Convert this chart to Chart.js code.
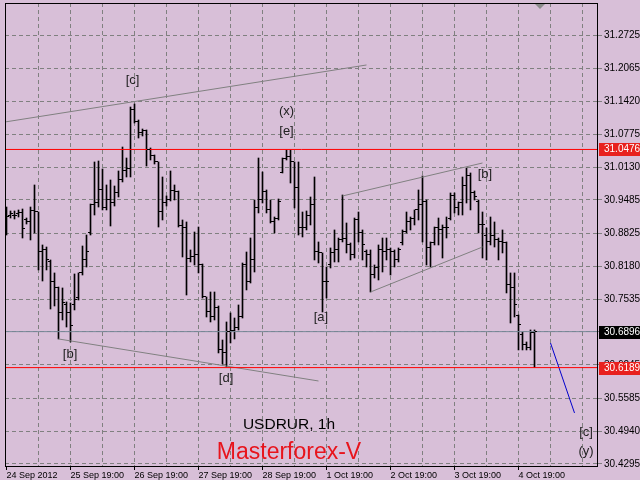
<!DOCTYPE html>
<html>
<head>
<meta charset="utf-8">
<script src="https://cdn.jsdelivr.net/npm/chart.js@4"></script>
<style>
  html, body { margin: 0; padding: 0; background: #D8BFD8; }
  canvas { display: block; }
</style>
</head>
<body>
<canvas id="chart" width="640" height="480"></canvas>
<script>
// USDRUR 1h bars (bar index 0 = 24 Sep 2012)
const open = [
  30.9247,30.9169,30.9169,30.9208,30.9228,30.9090,30.9070,30.9267,30.9247,30.8461,
  30.8501,30.8284,30.7872,30.7754,30.7263,30.7439,30.7263,30.7420,30.7557,30.8049,
  30.8304,30.8835,30.9385,30.9424,30.9680,30.9345,30.9483,30.9424,30.9621,30.9876,
  31.0053,31.0092,31.1252,31.1035,31.0800,31.0839,31.0466,31.0367,31.0230,30.9247,
  30.9424,30.9483,30.9660,30.9640,30.8972,30.8952,30.8343,30.8363,30.8402,30.8206,
  30.7577,30.7282,30.7184,30.7380,30.6536,30.6477,30.6889,30.6909,30.6968,30.7184,
  30.8225,30.7872,30.8304,30.9345,30.9483,30.9640,30.9287,30.9070,30.9129,31.0033,
  31.0289,31.0328,31.0230,30.9719,30.8933,30.8933,30.9188,30.9404,30.8461,30.8442,
  30.7872,30.8206,30.8442,30.8501,30.8697,30.8736,30.8599,30.8402,30.9090,30.8835,
  30.8461,30.8402,30.8009,30.8147,30.8501,30.8461,30.8501,30.8461,30.8304,30.8638,
  30.8854,30.9051,30.9110,30.9287,30.9385,30.9444,30.8559,30.8638,30.8952,30.8894,
  30.8952,30.9129,30.9581,30.9345,30.9424,30.9758,30.9974,30.9621,30.9444,30.8992,
  30.8795,30.8658,30.8795,30.8697,30.8658,30.8638,30.7813,30.7773,30.7204,30.6830,
  30.6634,30.6594,30.6870
];
const high = [
  30.9345,30.9267,30.9267,30.9287,30.9306,30.9129,30.9345,30.9778,30.9247,30.8599,
  30.8559,30.8304,30.8049,30.7773,30.7754,30.7479,30.7459,30.8029,30.8049,30.8579,
  30.8795,30.9404,31.0230,31.0249,31.0092,30.9778,30.9876,30.9758,31.0053,31.0524,
  31.0308,31.1310,31.1369,31.1055,31.0878,31.0859,31.0505,31.0367,31.0230,30.9935,
  30.9562,31.0053,30.9778,30.9660,30.9090,30.9051,30.8501,30.8854,30.8952,30.8225,
  30.7577,30.7675,30.7675,30.7400,30.6732,30.7086,30.7263,30.7164,30.7420,30.8245,
  30.8461,30.8736,30.9483,31.0308,31.0033,30.9680,30.9483,30.9149,30.9503,31.0308,
  31.0466,31.0466,31.0230,31.0230,30.9247,30.9267,30.9542,30.9935,30.8658,30.8442,
  30.8166,30.8540,30.8894,30.8736,30.9581,30.9031,30.8638,30.9129,30.9247,30.8894,
  30.8501,30.8501,30.8206,30.8599,30.8736,30.8736,30.8540,30.8501,30.8540,30.8894,
  30.9247,30.9149,30.9287,30.9680,30.9955,30.9483,30.8658,30.8952,30.9129,30.8992,
  30.9149,30.9621,30.9621,30.9444,30.9935,31.0112,31.0014,30.9660,30.9483,30.9247,
  30.8933,30.9149,30.9051,30.8736,30.8894,30.8658,30.8049,30.8049,30.7223,30.6889,
  30.6693,30.6929,30.6929
];
const low = [
  30.8795,30.9129,30.9110,30.9149,30.8736,30.9011,30.8697,30.8835,30.8108,30.7891,
  30.8108,30.7341,30.7400,30.6752,30.7125,30.6987,30.6693,30.7322,30.7518,30.8009,
  30.8166,30.8795,30.9188,30.9345,30.9287,30.9287,30.8972,30.9365,30.9542,30.9837,
  30.9935,30.9935,31.0996,31.0701,31.0741,31.0151,31.0269,31.0190,30.8952,30.9090,
  30.9365,30.9464,30.9483,30.8952,30.8363,30.7616,30.8265,30.8206,30.8049,30.7557,
  30.7184,30.7086,30.7125,30.6477,30.6260,30.6201,30.6673,30.6752,30.6929,30.7164,
  30.7715,30.7852,30.8068,30.9228,30.9424,30.9228,30.9031,30.8835,30.9090,31.0014,
  31.0269,30.9817,30.9326,30.8795,30.8756,30.8894,30.8992,30.8304,30.8245,30.7282,
  30.7557,30.8147,30.8265,30.8265,30.8658,30.8442,30.8304,30.8343,30.8658,30.8304,
  30.8166,30.7675,30.7950,30.7911,30.8068,30.8304,30.8009,30.8166,30.8265,30.8599,
  30.8835,30.8894,30.8992,30.9090,30.8658,30.8206,30.8166,30.8599,30.8599,30.8343,
  30.8736,30.9090,30.9228,30.9188,30.9188,30.9424,30.9287,30.9483,30.8835,30.8343,
  30.8304,30.8599,30.8559,30.8304,30.8442,30.7656,30.7066,30.7184,30.6536,30.6536,
  30.6536,30.6536,30.6189
];
const close = [
  30.9149,30.9208,30.9188,30.9228,30.8913,30.9070,30.9267,30.9247,30.8461,30.8501,
  30.8304,30.7872,30.7773,30.7263,30.7459,30.7263,30.7007,30.7518,30.8049,30.8304,
  30.8461,30.9385,30.9424,30.9680,30.9345,30.9483,30.9424,30.9621,30.9876,31.0053,
  31.0092,31.1252,31.1035,31.0800,31.0839,31.0466,31.0367,31.0230,30.9247,30.9424,
  30.9483,30.9660,30.9640,30.8972,30.8952,30.8343,30.8363,30.8402,30.8206,30.7577,
  30.7282,30.7184,30.7380,30.6536,30.6477,30.6889,30.6909,30.6968,30.7184,30.8225,
  30.7872,30.8304,30.9345,30.9483,30.9640,30.9287,30.9070,30.9129,30.9444,31.0289,
  31.0328,31.0230,30.9719,30.8933,30.8933,30.9188,30.9404,30.8461,30.8442,30.7872,
  30.7872,30.8442,30.8501,30.8697,30.8736,30.8599,30.8402,30.9090,30.8835,30.8599,
  30.8402,30.8009,30.8147,30.8501,30.8461,30.8501,30.8461,30.8304,30.8501,30.8854,
  30.9051,30.9110,30.9287,30.9385,30.9444,30.8559,30.8638,30.8952,30.8894,30.8952,
  30.8933,30.9581,30.9345,30.9424,30.9758,30.9974,30.9621,30.9542,30.8992,30.8992,
  30.8658,30.8795,30.8697,30.8658,30.8638,30.7813,30.7773,30.7420,30.7027,30.6634,
  30.6594,30.6870,30.6896
];

// axis stuff
const yTicks = [31.2725,31.2065,31.1420,31.0775,31.0130,30.9485,30.8825,30.8180,30.7535,30.6890,30.6245,30.5585,30.4940,30.4295];
const gridIdx = [0,8,16,24,32,40,48,56,64,72,80,88,96,104,112,120,128,136,144];
const dateIdx = [0,16,32,48,64,80,96,112,128];
const dateLabels = ['24 Sep 2012','25 Sep 19:00','26 Sep 19:00','27 Sep 19:00','28 Sep 19:00','1 Oct 19:00','2 Oct 19:00','3 Oct 19:00','4 Oct 19:00'];

// price levels and drawn objects
const redLevels = [31.0476, 30.6189];
const bidLevel = 30.6896;
const trendUpper = [[-0.375, 31.1016], [90, 31.2136]];
const trendLower = [[13, 30.6752], [78, 30.5926]];
const channelTop = [[84, 30.9562], [119, 31.0210]];
const channelBottom = [[91, 30.7675], [119, 30.8559]];
const forecast = [[136, 30.6673], [142, 30.5298]];
const waveText = ['[c]', '(x)', '[e]', '[b]', '[a]', '[b]', '[d]', '[c]', '(y)'];
const waveIdx = [31.5, 70, 70, 119.6, 78.6, 15.9, 54.9, 144.9, 144.9];
const wavePrice = [31.1841, 31.1232, 31.0839, 30.9994, 30.7184, 30.6457, 30.5985, 30.4924, 30.4551];

const xMin = -0.375, xMax = 147.875;
const yMin = 30.4236, yMax = 31.3354;

const seg = pts => pts.map(([x, y]) => ({ x, y }));
const hline = v => seg([[xMin, v], [xMax, v]]);
const lineDs = (data, color) => ({
  type: 'line', data, borderColor: color, borderWidth: 1,
  pointRadius: 0, fill: false, order: 0
});

const bars = high.map((h, i) => ({ x: i, y: [low[i], h] }));

// open / close ticks of every bar
const ohlcTicks = {
  id: 'ohlcTicks',
  afterDatasetsDraw(chart) {
    const { ctx, chartArea: a, scales: { x, y } } = chart;
    ctx.save();
    ctx.beginPath();
    ctx.rect(a.left, a.top, a.right - a.left, a.bottom - a.top);
    ctx.clip();
    ctx.fillStyle = '#000';
    open.forEach((o, i) => {
      const px = Math.floor(x.getPixelForValue(i));
      ctx.fillRect(px - 2, Math.floor(y.getPixelForValue(o)), 2, 1);
      ctx.fillRect(px + 1, Math.floor(y.getPixelForValue(close[i])), 2, 1);
    });
    ctx.restore();
  }
};

// frame, price boxes, wave marks, captions
const decor = {
  id: 'decor',
  afterDraw(chart) {
    const { ctx, chartArea: a, scales: { x, y } } = chart;
    ctx.save();
    ctx.strokeStyle = '#000';
    ctx.lineWidth = 1;
    ctx.strokeRect(a.left + 0.5, a.top + 0.5, a.right - a.left - 1, a.bottom - a.top - 1);

    // little shift marker
    ctx.fillStyle = '#8c8c8c';
    ctx.beginPath();
    ctx.moveTo(535, a.top + 1); ctx.lineTo(545, a.top + 1); ctx.lineTo(540, a.top + 6);
    ctx.fill();

    ctx.font = '10px "Liberation Sans"';
    ctx.textBaseline = 'middle';
    ctx.textAlign = 'left';
    const box = (v, bg) => {
      const py = Math.round(y.getPixelForValue(v));
      ctx.fillStyle = bg;
      ctx.fillRect(a.right + 1, py - 6, 640 - a.right - 1, 13);
      ctx.fillStyle = '#fff';
      ctx.fillText(v.toFixed(4), a.right + 6, py + 0.5);
    };
    redLevels.forEach(v => box(v, '#E8201E'));
    box(bidLevel, '#000');

    ctx.font = '13px "Liberation Sans"';
    ctx.fillStyle = '#222';
    ctx.textAlign = 'center';
    waveText.forEach((t, i) => {
      ctx.fillText(t, x.getPixelForValue(waveIdx[i]), y.getPixelForValue(wavePrice[i]));
    });

    ctx.textBaseline = 'alphabetic';
    ctx.fillStyle = '#000';
    ctx.font = '15.5px "Liberation Sans"';
    ctx.fillText('USDRUR, 1h', 289, 429);
    ctx.fillStyle = '#E8141C';
    ctx.font = '23px "Liberation Sans"';
    ctx.fillText('Masterforex-V', 289, 459);
    ctx.restore();
  }
};

new Chart(document.getElementById('chart'), {
  type: 'bar',
  data: {
    datasets: [
      lineDs(hline(redLevels[0]), '#FF0000'),
      lineDs(hline(redLevels[1]), '#FF0000'),
      lineDs(hline(bidLevel), '#778899'),
      lineDs(seg(trendUpper), '#808080'),
      lineDs(seg(trendLower), '#808080'),
      lineDs(seg(channelTop), '#808080'),
      lineDs(seg(channelBottom), '#808080'),
      lineDs(seg(forecast), '#0000CC'),
      {
        type: 'bar', data: bars, backgroundColor: '#000', borderWidth: 0,
        barThickness: 1, grouped: false, order: 1
      }
    ]
  },
  options: {
    responsive: false,
    animation: false,
    devicePixelRatio: 1,
    layout: { padding: { left: 5, top: 3, right: 0, bottom: 0 } },
    plugins: { legend: { display: false }, tooltip: { enabled: false } },
    scales: {
      x: {
        type: 'linear', min: xMin, max: xMax, offset: false,
        afterBuildTicks: s => { s.ticks = gridIdx.map(v => ({ value: v })); },
        afterFit: s => { s.height = 13; s.paddingLeft = 0; s.paddingRight = 0; },
        grid: {
          offset: false, lineWidth: 1, tickLength: 3,
          color: c => (c.tick && c.tick.value === 0) ? 'rgba(0,0,0,0)' : '#808080',
          tickColor: c => (c.tick && dateIdx.includes(c.tick.value)) ? '#000' : 'rgba(0,0,0,0)'
        },
        border: { display: false, dash: [4, 3] },
        ticks: {
          autoSkip: false, maxRotation: 0, minRotation: 0, align: 'start', padding: 0,
          color: '#000', font: { family: 'Liberation Sans', size: 9 },
          callback: v => { const k = dateIdx.indexOf(v); return k >= 0 ? dateLabels[k] : ''; }
        }
      },
      y: {
        type: 'linear', position: 'right', min: yMin, max: yMax,
        afterBuildTicks: s => { s.ticks = yTicks.map(v => ({ value: v })); },
        afterFit: s => { s.width = 42; s.paddingTop = 0; s.paddingBottom = 0; },
        grid: { color: '#808080', lineWidth: 1, tickLength: 4 },
        border: { display: false, dash: [4, 3] },
        ticks: {
          padding: 2, color: '#000', font: { family: 'Liberation Sans', size: 10 },
          callback: v => v.toFixed(4)
        }
      }
    }
  },
  plugins: [ohlcTicks, decor]
});
</script>
</body>
</html>
